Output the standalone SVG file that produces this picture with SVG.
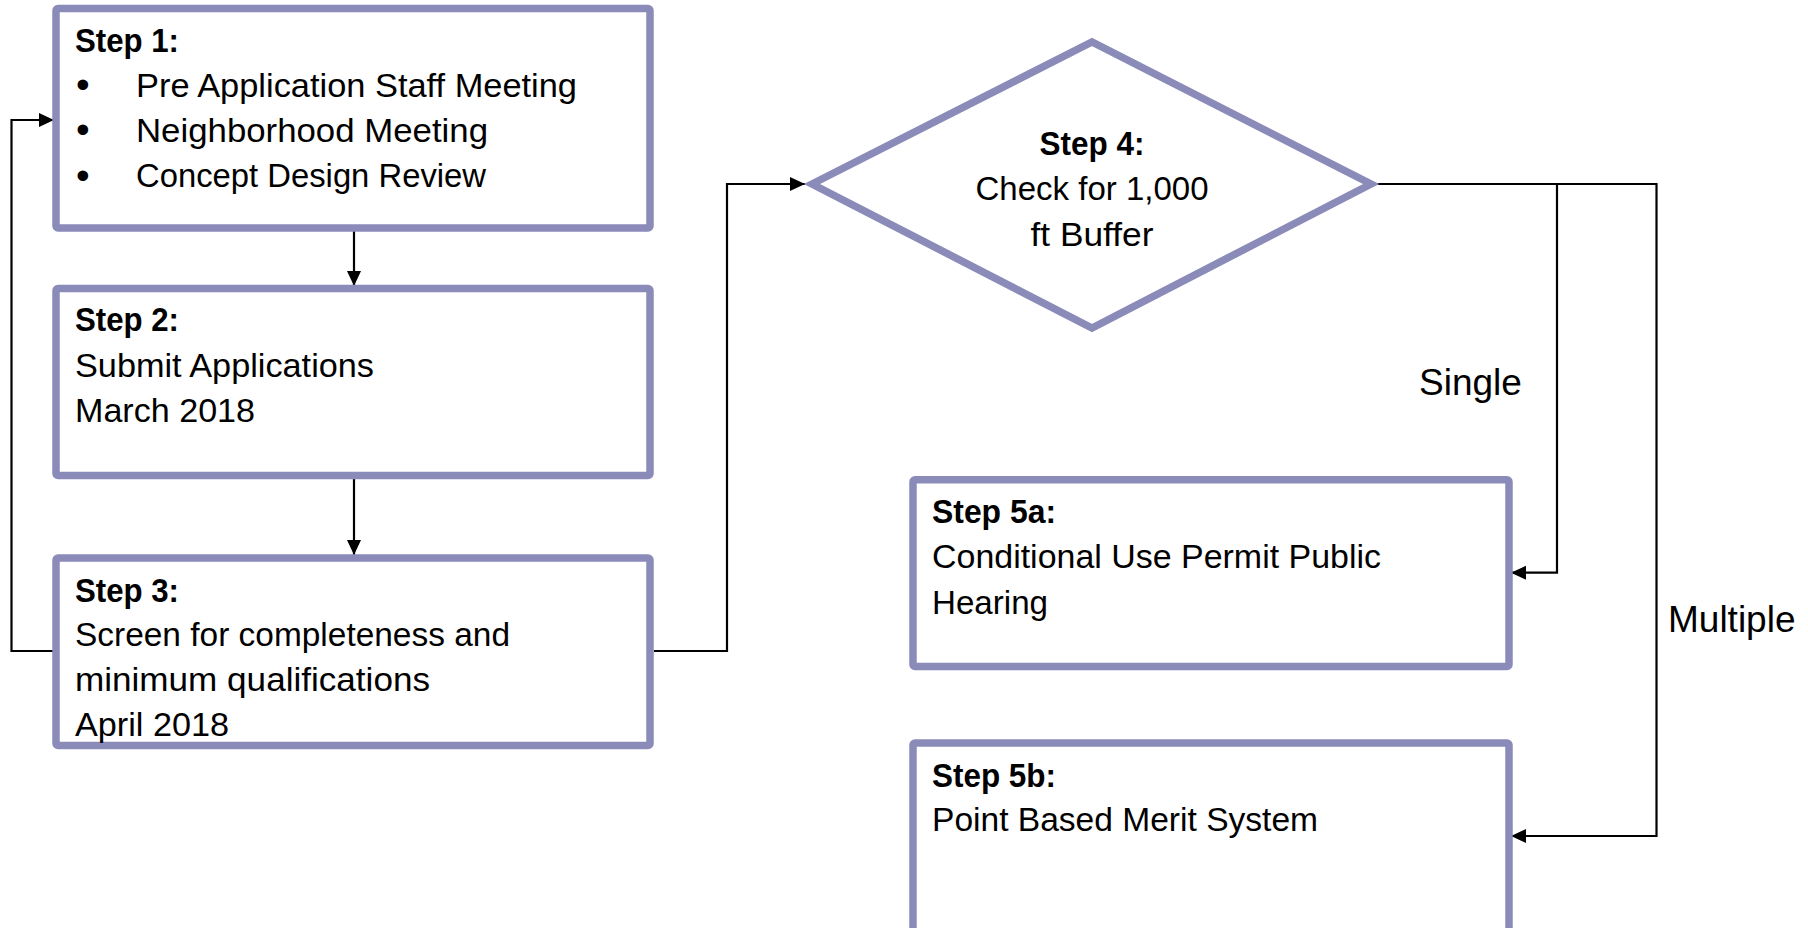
<svg xmlns="http://www.w3.org/2000/svg" width="1808" height="928" viewBox="0 0 1808 928">
<defs>
<marker id="arr" markerUnits="userSpaceOnUse" markerWidth="16" markerHeight="15" refX="15" refY="7" orient="auto">
<path d="M0,0 L15,7 L0,14 z" fill="#000"/>
</marker>
<style>
.box{fill:#fff;stroke:#8B8BBA;stroke-width:7.5;stroke-linejoin:round}
.t{font-family:"Liberation Sans",Arial,sans-serif;font-size:34px;fill:#000}
.b{font-weight:bold}
.bul{font-family:"Liberation Sans",Arial,sans-serif;font-size:39px;fill:#000}
.lbl{font-family:"Liberation Sans",Arial,sans-serif;font-size:37px;fill:#000}
.c{fill:none;stroke:#000;stroke-width:2.2}
</style>
</defs>
<rect width="1808" height="928" fill="#fff"/>
<g id="connectors">
<path class="c" d="M354,228 L354,286" marker-end="url(#arr)"/>
<path class="c" d="M354,476 L354,555" marker-end="url(#arr)"/>
<path class="c" d="M53,651 L11.5,651 L11.5,120 L54,120" marker-end="url(#arr)"/>
<path class="c" d="M654,651 L727,651 L727,184 L805,184" marker-end="url(#arr)"/>
<path class="c" d="M1376,184 L1656.5,184 L1656.5,836 L1511,836" marker-end="url(#arr)"/>
<path class="c" d="M1557,184 L1557,572.7 L1511,572.7" marker-end="url(#arr)"/>
</g>
<g id="step1">
<rect class="box" x="56" y="8.5" width="594" height="219.5" rx="2"/>
<text class="t b" x="75" y="52" textLength="104" lengthAdjust="spacingAndGlyphs">Step 1:</text>
<text class="bul" x="76" y="98">•</text>
<text class="bul" x="76" y="143">•</text>
<text class="bul" x="76" y="189">•</text>
<text class="t" x="136" y="97" textLength="441" lengthAdjust="spacingAndGlyphs">Pre Application Staff Meeting</text>
<text class="t" x="136" y="142" textLength="352" lengthAdjust="spacingAndGlyphs">Neighborhood Meeting</text>
<text class="t" x="136" y="187" textLength="350" lengthAdjust="spacingAndGlyphs">Concept Design Review</text>
</g>
<g id="step2">
<rect class="box" x="56" y="288.5" width="594" height="187" rx="2"/>
<text class="t b" x="75" y="331" textLength="104" lengthAdjust="spacingAndGlyphs">Step 2:</text>
<text class="t" x="75" y="376.5" textLength="299" lengthAdjust="spacingAndGlyphs">Submit Applications</text>
<text class="t" x="75" y="421.5" textLength="180" lengthAdjust="spacingAndGlyphs">March 2018</text>
</g>
<g id="step3">
<rect class="box" x="56" y="558" width="594" height="187.5" rx="2"/>
<text class="t b" x="75" y="601.5" textLength="104" lengthAdjust="spacingAndGlyphs">Step 3:</text>
<text class="t" x="75" y="646" textLength="435" lengthAdjust="spacingAndGlyphs">Screen for completeness and</text>
<text class="t" x="75" y="691" textLength="355" lengthAdjust="spacingAndGlyphs">minimum qualifications</text>
<text class="t" x="75" y="736" textLength="154" lengthAdjust="spacingAndGlyphs">April 2018</text>
</g>
<g id="step4">
<polygon class="box" style="stroke-linejoin:miter" points="812,184 1092,42 1371,184 1092,328"/>
<text class="t b" x="1092" y="155" text-anchor="middle" textLength="105" lengthAdjust="spacingAndGlyphs">Step 4:</text>
<text class="t" x="1092" y="200" text-anchor="middle" textLength="233" lengthAdjust="spacingAndGlyphs">Check for 1,000</text>
<text class="t" x="1092" y="246" text-anchor="middle" textLength="123" lengthAdjust="spacingAndGlyphs">ft Buffer</text>
</g>
<g id="step5a">
<rect class="box" x="913" y="479.7" width="596" height="186.7" rx="2"/>
<text class="t b" x="932" y="523" textLength="124" lengthAdjust="spacingAndGlyphs">Step 5a:</text>
<text class="t" x="932" y="568" textLength="449" lengthAdjust="spacingAndGlyphs">Conditional Use Permit Public</text>
<text class="t" x="932" y="614" textLength="116" lengthAdjust="spacingAndGlyphs">Hearing</text>
</g>
<g id="step5b">
<rect class="box" x="913" y="743" width="596" height="200" rx="2"/>
<text class="t b" x="932" y="787" textLength="124" lengthAdjust="spacingAndGlyphs">Step 5b:</text>
<text class="t" x="932" y="831" textLength="386" lengthAdjust="spacingAndGlyphs">Point Based Merit System</text>
</g>
<g id="labels">
<text class="lbl" x="1419" y="395">Single</text>
<text class="lbl" x="1668" y="632">Multiple</text>
</g>
</svg>
